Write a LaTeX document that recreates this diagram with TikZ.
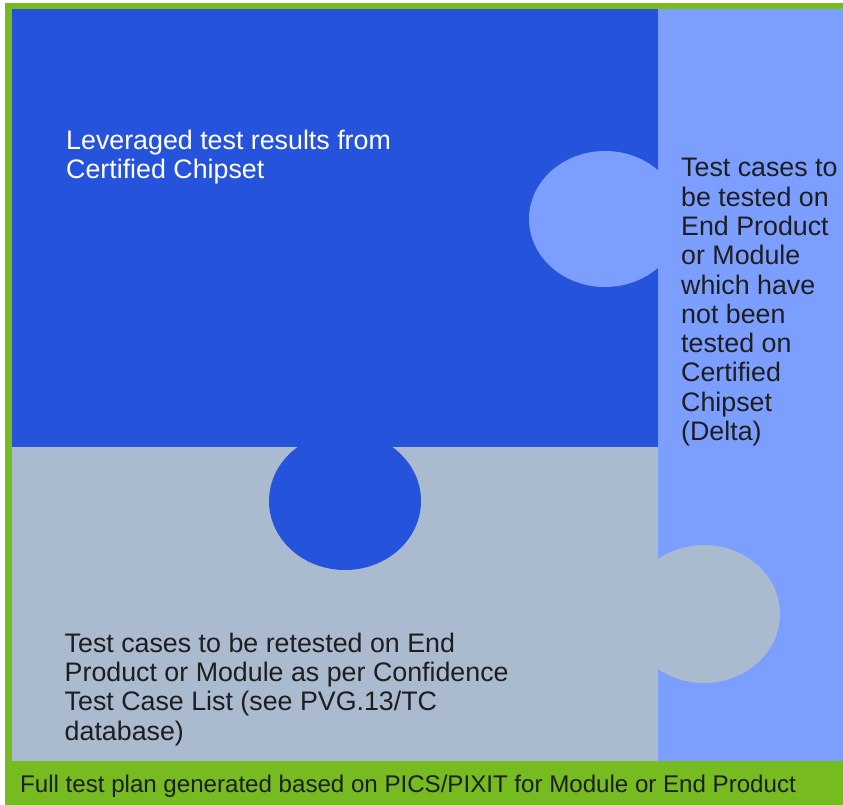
\documentclass[tikz,border=0pt]{standalone}
\usepackage{fontspec}
\setmainfont{Liberation Sans}
\definecolor{darkblue}{HTML}{2553DC}
\definecolor{lightblue}{HTML}{7B9EFF}
\definecolor{greyblue}{HTML}{AABACF}
\definecolor{framegreen}{HTML}{76BB1F}
\definecolor{ink}{HTML}{1E1E1E}
\begin{document}
\begin{tikzpicture}[x=1pt,y=-1pt,
  bigtext/.style={inner sep=0pt, anchor=north west, align=left,
    font=\fontsize{26.8}{29.3}\selectfont},
  bartext/.style={inner sep=0pt, anchor=base west,
    font=\fontsize{24.1}{28}\selectfont, text=ink}]
\useasboundingbox (0,0) rectangle (843,805);
\fill[white] (0,0) rectangle (843,805);
% green frame
\fill[framegreen] (5,3) rectangle (843,805);
% pieces
\fill[darkblue] (12,9) rectangle (658,447);
\fill[lightblue] (658,9) rectangle (843,761);
\fill[greyblue] (12,447) rectangle (658,761);
% knobs
\fill[lightblue] (605,219) ellipse [x radius=76, y radius=68];
\fill[darkblue] (345,501) ellipse [x radius=76, y radius=69];
\fill[greyblue] (704,614) ellipse [x radius=76, y radius=69];
% texts
\node[bigtext, text=white] (lev) at (66,128.4)
  {\strut Leveraged test results from\\\strut Certified Chipset};
\node[bigtext, text=ink] (delta) at (681,156.1)
  {\strut Test cases to\\\strut be tested on\\\strut End Product\\\strut or Module\\\strut which have\\\strut not been\\\strut tested on\\\strut Certified\\\strut Chipset\\\strut (Delta)};
\node[bigtext, text=ink] (retest) at (64.5,631.4)
  {\strut Test cases to be retested on End\\\strut Product or Module as per Confidence\\\strut Test Case List (see PVG.13/TC\\\strut database)};
\node[bartext] (full) at (20,792)
  {Full test plan generated based on PICS/PIXIT for Module or End Product};
\end{tikzpicture}
\end{document}
